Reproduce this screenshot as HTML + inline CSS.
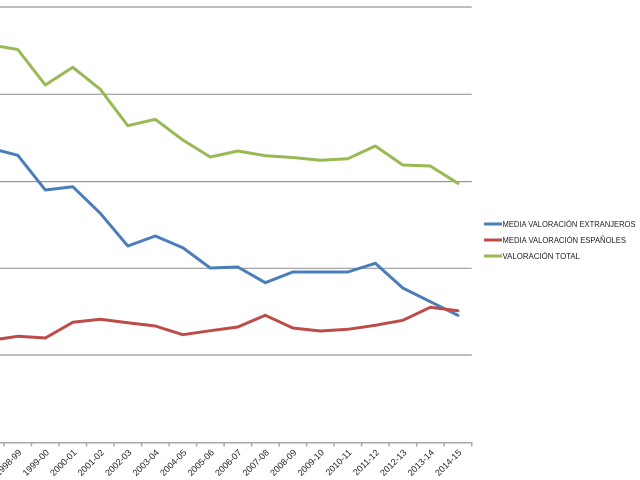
<!DOCTYPE html>
<html><head><meta charset="utf-8"><style>
html,body{margin:0;padding:0;background:#fff;}
svg{display:block;}
text{font-family:"Liberation Sans",sans-serif;}
</style></head><body>
<svg width="640" height="480" viewBox="0 0 640 480" xmlns="http://www.w3.org/2000/svg">
<rect width="640" height="480" fill="#fff"/>
<g stroke="#999" stroke-width="1.2">
<line x1="0" y1="7" x2="471.7" y2="7"/>
<line x1="0" y1="94.3" x2="471.7" y2="94.3"/>
<line x1="0" y1="181.6" x2="471.7" y2="181.6"/>
<line x1="0" y1="268.3" x2="471.7" y2="268.3"/>
<line x1="0" y1="355" x2="471.7" y2="355"/>
</g>
<g stroke="#aaa" stroke-width="1.5">
<line x1="0" y1="442.7" x2="472.5" y2="442.7"/>
<line x1="4" y1="442" x2="4" y2="446.5"/>
<line x1="31.5" y1="442" x2="31.5" y2="446.5"/>
<line x1="59" y1="442" x2="59" y2="446.5"/>
<line x1="86.5" y1="442" x2="86.5" y2="446.5"/>
<line x1="114" y1="442" x2="114" y2="446.5"/>
<line x1="141.6" y1="442" x2="141.6" y2="446.5"/>
<line x1="169.1" y1="442" x2="169.1" y2="446.5"/>
<line x1="196.6" y1="442" x2="196.6" y2="446.5"/>
<line x1="224.1" y1="442" x2="224.1" y2="446.5"/>
<line x1="251.6" y1="442" x2="251.6" y2="446.5"/>
<line x1="279.1" y1="442" x2="279.1" y2="446.5"/>
<line x1="306.6" y1="442" x2="306.6" y2="446.5"/>
<line x1="334.1" y1="442" x2="334.1" y2="446.5"/>
<line x1="361.6" y1="442" x2="361.6" y2="446.5"/>
<line x1="389.1" y1="442" x2="389.1" y2="446.5"/>
<line x1="416.7" y1="442" x2="416.7" y2="446.5"/>
<line x1="444.2" y1="442" x2="444.2" y2="446.5"/>
<line x1="471.7" y1="442" x2="471.7" y2="446.5"/>
</g>
<g font-size="9" fill="#222" text-anchor="end" dominant-baseline="central">
<text transform="translate(20,451) rotate(-45)">1998-99</text>
<text transform="translate(47.5,451) rotate(-45)">1999-00</text>
<text transform="translate(75,451) rotate(-45)">2000-01</text>
<text transform="translate(102.5,451) rotate(-45)">2001-02</text>
<text transform="translate(130,451) rotate(-45)">2002-03</text>
<text transform="translate(157.5,451) rotate(-45)">2003-04</text>
<text transform="translate(185,451) rotate(-45)">2004-05</text>
<text transform="translate(212.5,451) rotate(-45)">2005-06</text>
<text transform="translate(240,451) rotate(-45)">2006-07</text>
<text transform="translate(267.5,451) rotate(-45)">2007-08</text>
<text transform="translate(295,451) rotate(-45)">2008-09</text>
<text transform="translate(322.5,451) rotate(-45)">2009-10</text>
<text transform="translate(350,451) rotate(-45)">2010-11</text>
<text transform="translate(377.5,451) rotate(-45)">2011-12</text>
<text transform="translate(405,451) rotate(-45)">2012-13</text>
<text transform="translate(432.5,451) rotate(-45)">2013-14</text>
<text transform="translate(460,451) rotate(-45)">2014-15</text>
</g>
<g fill="none" stroke-width="3" stroke-linejoin="round" stroke-linecap="round">
<polyline stroke="#4A7EBB" points="-9.76,148.1 17.8,155.3 45.3,190 72.8,186.7 100.3,213.3 127.8,246 155.3,236 182.8,247.7 210.3,268 237.8,267 265.3,282.7 292.8,272 320.3,272 347.8,272 375.3,263.3 402.8,288 430.3,301.7 457.9,315.3"/>
<polyline stroke="#BE4B48" points="-9.76,340.4 17.8,336.3 45.3,338 72.8,322.3 100.3,319.3 127.8,322.7 155.3,326 182.8,334.7 210.3,330.7 237.8,327 265.3,315.3 292.8,328 320.3,331 347.8,329.3 375.3,325.3 402.8,320.3 430.3,307.3 457.9,310.7"/>
<polyline stroke="#98B954" points="-9.76,44.8 17.8,49.5 45.3,85 72.8,67.3 100.3,89.3 127.8,125.7 155.3,119.3 182.8,140 210.3,157 237.8,151 265.3,155.7 292.8,157.5 320.3,160.3 347.8,158.7 375.3,146 402.8,165 430.3,166 457.9,183.3"/>
</g>
<g stroke-width="3">
<line x1="484" y1="224" x2="502" y2="224" stroke="#4A7EBB"/>
<line x1="484" y1="240" x2="502" y2="240" stroke="#BE4B48"/>
<line x1="484" y1="256" x2="502" y2="256" stroke="#98B954"/>
</g>
<g font-size="8" fill="#222" dominant-baseline="central">
<text x="502.5" y="224.5" textLength="133" lengthAdjust="spacingAndGlyphs">MEDIA VALORACIÓN EXTRANJEROS</text>
<text x="502.5" y="240.5" textLength="123.5" lengthAdjust="spacingAndGlyphs">MEDIA VALORACIÓN ESPAÑOLES</text>
<text x="502.5" y="256.5" textLength="77.5" lengthAdjust="spacingAndGlyphs">VALORACIÓN TOTAL</text>
</g>
</svg>
</body></html>
